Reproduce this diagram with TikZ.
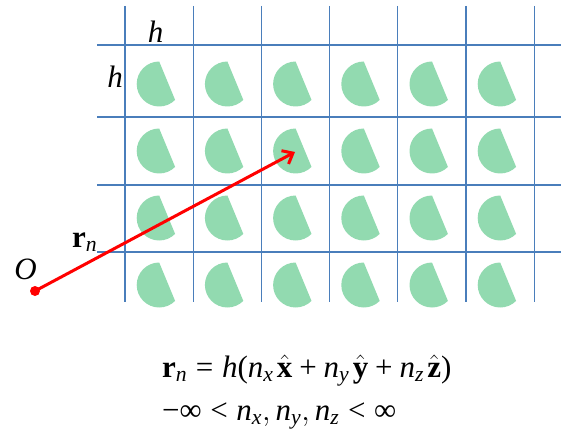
\RequirePackage{fix-cm}
\documentclass[tikz,border=0pt]{standalone}
\usepackage{amsmath}
\usepackage{fontspec}
\setmainfont{Liberation Serif}
\usetikzlibrary{arrows.meta}
\definecolor{gridblue}{RGB}{74,126,187}
\definecolor{cellgreen}{RGB}{146,218,176}
\newcommand\ti[1]{\text{\normalfont\itshape #1}}
\newcommand\tx[1]{\text{\normalfont #1}}
\newcommand\gp{\mspace{2mu}}
\tikzset{
  gridline/.style={draw=gridblue, line width=1.1pt},
  atomshape/.style={fill=cellgreen},
  lbl/.style={inner sep=0pt, anchor=base, font=\fontsize{31}{33}\selectfont},
  eqn/.style={inner sep=0pt, anchor=base west, font=\fontsize{31}{33}\selectfont},
  vec/.style={draw=red, line width=3pt, -{Straight Barb[length=9pt,width=15pt]}}
}
\begin{document}
\begin{tikzpicture}[x=1pt,y=1pt]
\useasboundingbox (0,0) rectangle (561,434);
% grid
\foreach \i in {0,...,6} {
  \draw[gridline] (125+68.2*\i,428) -- (125+68.2*\i,132);
}
\foreach \y in {389,317,249,182} {
  \draw[gridline] (97,\y) -- (561,\y);
}
% shapes
\foreach \i in {0,...,5} {
  \foreach \y in {350,283,216,149} {
    \fill[atomshape] (159.2+68.2*\i,\y) ++(90:22.5pt) arc[start angle=90,end angle=315,radius=22.5pt] -- cycle;
  }
}
% labels
\node[lbl] (htop) at (155.5,391) {\itshape h};
\node[lbl] (hleft) at (115,346) {\itshape h};
\node[lbl, anchor=center] (O) at (25.5,164.5) {\itshape O};
\node[lbl, anchor=base west] (rn) at (72,187) {$\textbf{r}_{\ti{n}}$};
% vector
\coordinate (orig) at (35,143);
\coordinate (tip) at (295,282);
\draw[vec] (orig) -- (tip);
\fill[red] (orig) circle[radius=5pt];
% equations
\node[eqn] (eq1) at (162,57) {$\textbf{r}_{\ti{n}} \mathrel{\tx{=}} \ti{h}\tx{(}\ti{n}_{\ti{x}}\gp\hat{\textbf{x}} \mathbin{\tx{+}} \ti{n}_{\ti{y}}\gp\hat{\textbf{y}} \mathbin{\tx{+}} \ti{n}_{\ti{z}}\gp\hat{\textbf{z}}\tx{)}$};
\node[eqn] (eq2) at (162,14) {$\tx{−∞} \mathrel{\tx{<}} \ti{n}_{\ti{x}}, \ti{n}_{\ti{y}}, \ti{n}_{\ti{z}} \mathrel{\tx{<}} \tx{∞}$};
\end{tikzpicture}
\end{document}
